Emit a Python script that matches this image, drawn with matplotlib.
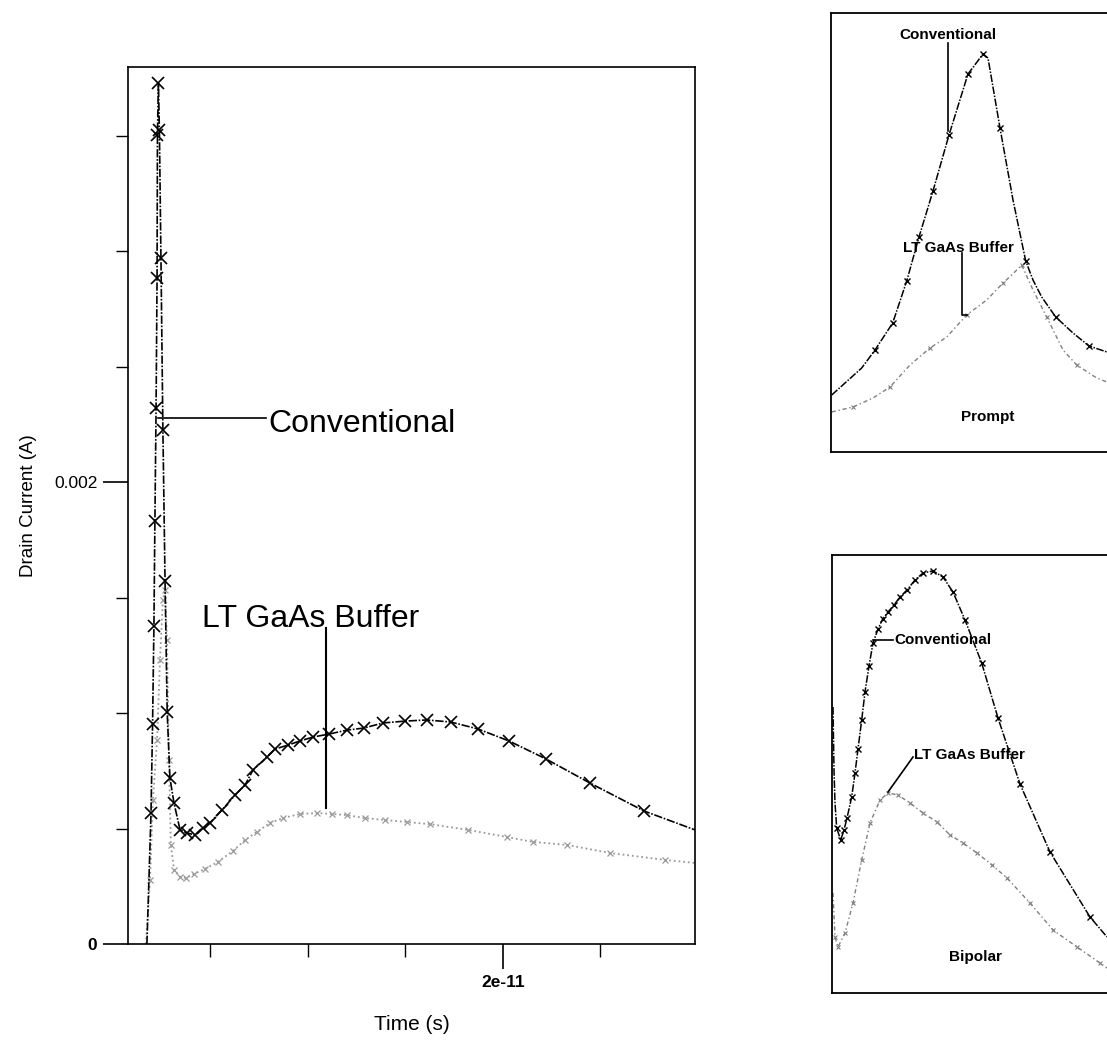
import matplotlib
matplotlib.use("Agg")
import matplotlib.pyplot as plt
from matplotlib.ticker import MultipleLocator, FixedLocator
import numpy as np

plt.rcParams['font.family'] = ['Liberation Sans', 'DejaVu Sans']

# ---- main panel data (time in ps, current in mA) ----
conv_t = [1.74, 1.95, 2.03, 2.10, 2.15, 2.21, 2.26, 2.28, 2.33, 2.38, 2.46, 2.56,
          2.67, 2.78, 2.92, 3.13, 3.44, 3.79, 4.21, 4.62, 4.97, 5.59, 6.26, 6.77,
          7.18, 7.90, 8.31, 8.97, 9.59, 10.26, 11.08, 12.00, 12.87, 13.85, 14.97,
          16.10, 17.33, 18.72, 20.31, 22.21, 24.46, 27.23, 29.85]
conv_i = [0.000, 0.567, 0.952, 1.377, 1.831, 2.320, 2.883, 3.502, 3.727, 3.524,
          2.970, 2.225, 1.571, 1.004, 0.719, 0.610, 0.494, 0.481, 0.472, 0.502,
          0.524, 0.580, 0.645, 0.688, 0.753, 0.810, 0.844, 0.861, 0.879, 0.896,
          0.909, 0.926, 0.935, 0.957, 0.965, 0.970, 0.961, 0.931, 0.879, 0.801,
          0.697, 0.576, 0.494]

lt_t = [1.69, 1.90, 2.05, 2.26, 2.41, 2.56, 2.67, 2.77, 2.87, 2.97, 3.13, 3.44,
        3.74, 4.15, 4.72, 5.38, 6.15, 6.77, 7.38, 8.05, 8.72, 9.59, 10.46, 11.23,
        12.00, 12.92, 13.95, 15.08, 16.26, 18.21, 20.21, 21.54, 23.28, 25.49,
        28.31, 29.85]
lt_i = [0.000, 0.277, 0.623, 0.883, 1.229, 1.489, 1.532, 1.316, 0.797, 0.429,
        0.320, 0.290, 0.286, 0.303, 0.325, 0.355, 0.403, 0.450, 0.485, 0.524,
        0.545, 0.563, 0.567, 0.563, 0.558, 0.545, 0.537, 0.528, 0.519, 0.494,
        0.463, 0.442, 0.429, 0.394, 0.364, 0.351]

# ---- inset "Prompt" (arbitrary units) ----
p_conv_x = [0.7, 30.7, 44, 61.7, 75.7, 88, 102, 118, 137, 152, 157, 169, 182,
            194.7, 202, 210.7, 224.7, 242, 258, 276]
p_conv_y = [57, 84, 102, 129, 171, 215, 261, 317, 378, 398, 394, 324, 252,
            191, 172, 155, 135, 119, 106, 100]
p_conv_mk = [2, 3, 4, 5, 6, 7, 8, 9, 11, 13, 16, 18]
p_lt_x = [0.7, 22, 42, 59, 79, 99, 115.7, 135.7, 155.7, 172, 180.7, 190.7,
          202, 215.7, 232, 245.7, 265.7, 276]
p_lt_y = [40, 45, 54, 65, 87, 104, 115, 137, 152, 169, 177, 187,
          162, 135, 102, 87, 74, 70]

# ---- inset "Bipolar" (arbitrary units) ----
b_conv_x = [1, 2, 3, 4.7, 8.7, 12, 15, 19.7, 23, 26, 29.7, 33, 37, 41, 46, 50.7,
            56, 62, 68, 75, 83, 91, 101, 111, 121, 133, 149.7, 166, 188, 218,
            258, 275]
b_conv_y = [286, 223, 190, 165, 153, 163, 175, 196, 220, 244, 273, 301, 327,
            350, 364, 374, 381, 388, 396, 403, 413, 420, 422, 416, 401, 373,
            330, 275, 209, 141, 76, 56]
b_lt_x = [1, 3, 6, 13, 21, 29.7, 38, 48, 56, 66, 78, 91, 105, 118, 131, 145,
          160, 175, 198, 221, 245, 268, 275]
b_lt_y = [100, 56, 46, 60, 90, 133, 170, 193, 200, 198, 190, 180, 171, 158,
          150, 140, 128, 115, 90, 63, 46, 30, 25]

W, H = 1107, 1043
fig = plt.figure(figsize=(W / 100, H / 100), dpi=100)

def box(l, t, r, b):
    return [l / W, (H - b) / H, (r - l) / W, (b - t) / H]

conv_ls = (0, (5, 1, 1, 1))
lt_ls = (0, (1, 1.6))

# main axes
ax = fig.add_axes(box(128, 67, 695, 944))
ct = np.array(conv_t) * 1e-12
ci = np.array(conv_i) * 1e-3
lt = np.array(lt_t) * 1e-12
li = np.array(lt_i) * 1e-3
ax.plot(lt, li, color='#9a9a9a', ls=lt_ls, lw=1.3, marker='x', ms=5,
        mew=0.9, markevery=list(range(1, len(lt) - 1)))
ax.plot(ct, ci, color='black', ls=conv_ls, lw=1.2, marker='x', ms=8,
        mew=1.2, markevery=list(range(1, len(ct) - 1)))

ax.set_xlim(0.77e-12, 29.85e-12)
ax.set_ylim(0, 3.797e-3)
ax.xaxis.set_major_locator(FixedLocator([2e-11]))
ax.xaxis.set_minor_locator(FixedLocator([0.5e-11, 1.0e-11, 1.5e-11, 2.5e-11]))
ax.set_xticklabels(['2e-11'])
ax.yaxis.set_major_locator(FixedLocator([0, 0.002]))
ax.yaxis.set_minor_locator(MultipleLocator(0.0005))
ax.set_yticklabels(['0', '0.002'])
ax.tick_params(which='major', length=18, width=1.2, labelsize=12.5, pad=4)
ax.tick_params(which='minor', length=9, width=1.0)
for lab in ax.get_xticklabels():
    lab.set_fontweight('bold')
ax.get_yticklabels()[0].set_fontweight('bold')
for s in ax.spines.values():
    s.set_linewidth(1.2)

ax.set_xlabel('Time (s)', fontsize=15, labelpad=18)
ax.set_ylabel('Drain Current (A)', fontsize=13.5, labelpad=12)

# annotations in main panel
ax.plot([2.3e-12, 7.85e-12], [2.277e-3, 2.277e-3], color='black', lw=1.2)
ax.text(7.95e-12, 2.25e-3, 'Conventional', fontsize=23, va='center', ha='left')
ax.plot([10.9e-12, 10.9e-12], [1.368e-3, 0.589e-3], color='black', lw=1.5)
ax.text(4.55e-12, 1.405e-3, 'LT GaAs Buffer', fontsize=23, va='center', ha='left')

# inset Prompt
a1 = fig.add_axes(box(831, 13, 1125, 452))
a1.plot(p_lt_x, p_lt_y, color='#808080', ls=(0, (3, 2, 1, 2)), lw=1.0,
        marker='x', ms=3.5, mew=0.8, markevery=list(range(1, len(p_lt_x) - 1, 2)))
a1.plot(p_conv_x, p_conv_y, color='black', ls=conv_ls, lw=1.1, marker='x',
        ms=5, mew=1.0, markevery=p_conv_mk)
a1.set_xlim(0, 294)
a1.set_ylim(0, 439)
a1.set_xticks([])
a1.set_yticks([])
a1.plot([117, 117], [409, 321], color='black', lw=1.2)
a1.text(117, 417, 'Conventional', fontsize=11, fontweight='bold',
        ha='center', va='center')
a1.plot([131, 131, 136], [199, 137, 137], color='black', lw=1.2)
a1.text(127, 204, 'LT GaAs Buffer', fontsize=11, fontweight='bold',
        ha='center', va='center')
a1.text(157, 35, 'Prompt', fontsize=11, fontweight='bold',
        ha='center', va='center')

# inset Bipolar
a2 = fig.add_axes(box(832, 555, 1125, 993))
a2.plot(b_lt_x, b_lt_y, color='#808080', ls=(0, (3, 2, 1, 2)), lw=1.0,
        marker='x', ms=3.5, mew=0.8, markevery=list(range(1, len(b_lt_x) - 1)))
a2.plot(b_conv_x, b_conv_y, color='black', ls=conv_ls, lw=1.1, marker='x',
        ms=5, mew=1.0, markevery=list(range(3, len(b_conv_x) - 1)))
a2.set_xlim(0, 293)
a2.set_ylim(0, 438)
a2.set_xticks([])
a2.set_yticks([])
a2.plot([41, 61], [353, 353], color='black', lw=1.2)
a2.text(62, 353, 'Conventional', fontsize=11, fontweight='bold',
        ha='left', va='center')
a2.plot([56, 81], [201, 236], color='black', lw=1.2)
a2.text(82, 238, 'LT GaAs Buffer', fontsize=11, fontweight='bold',
        ha='left', va='center')
a2.text(143, 36, 'Bipolar', fontsize=11, fontweight='bold',
        ha='center', va='center')

for a in (a1, a2):
    for s in a.spines.values():
        s.set_linewidth(1.3)

fig.savefig('out.png', dpi=100)
